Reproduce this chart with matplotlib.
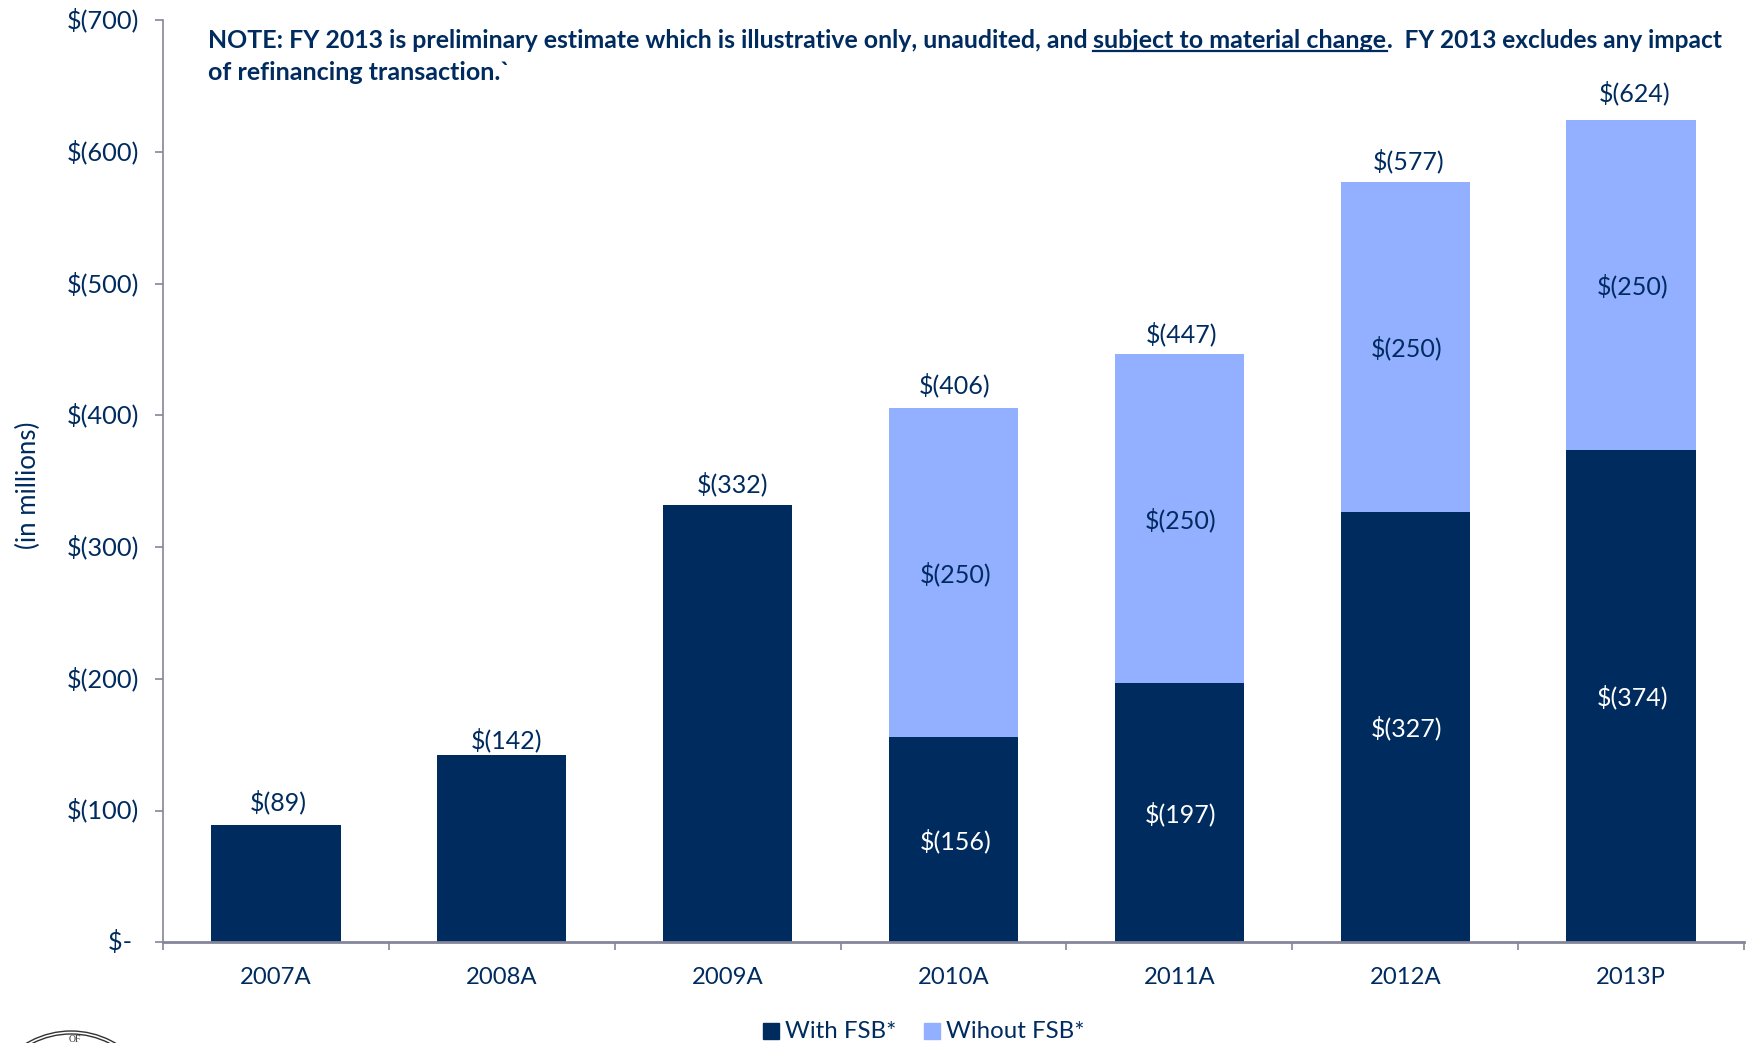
import matplotlib
matplotlib.use("Agg")
import matplotlib.pyplot as plt
from matplotlib.patches import Arc, Rectangle
from matplotlib.transforms import ScaledTranslation

W, H = 1747, 1043

categories = ["2007A", "2008A", "2009A", "2010A", "2011A", "2012A", "2013P"]
with_fsb = [89, 142, 332, 156, 197, 327, 374]
without_fsb = [0, 0, 0, 250, 250, 250, 250]
totals = [89, 142, 332, 406, 447, 577, 624]
y_ticks = [0, 100, 200, 300, 400, 500, 600, 700]
y_tick_labels = ["$- ", "$(100)", "$(200)", "$(300)", "$(400)", "$(500)", "$(600)", "$(700)"]

# the reference places its total labels unevenly (points, from the bar top)
total_dx = [1.5, 3.2, 3.4, 1, 1.7, 2.5, 2.5]
total_dy = [17, 11.2, 15.2, 16.3, 14, 15.6, 19.5]

NAVY = "#002B5F"
LIGHT = "#93AFFF"
AXIS = "#85859A"

plt.rcParams["font.family"] = ["Lato", "DejaVu Sans"]

fig = plt.figure(figsize=(W / 100, H / 100), dpi=100)
ax = fig.add_axes([163 / W, 1 - 942.3 / H, (1744 - 163) / W, 922 / H])


def px(x, y):
    # figure pixels, origin top left
    return x / W, 1 - y / H


xs = list(range(len(categories)))
ax.bar(xs, with_fsb, width=0.572, color=NAVY)
ax.bar(xs, without_fsb, width=0.572, bottom=with_fsb, color=LIGHT)

ax.set_xlim(-0.5, 6.5)
ax.set_ylim(0, 700)
ax.set_yticks(y_ticks)
ax.set_yticklabels(y_tick_labels, fontsize=18.3, color=NAVY)
ax.set_xticks([x - 0.5 for x in range(8)])
ax.set_xticklabels([])
ax.tick_params(axis="y", length=6, width=1.2, color=AXIS, pad=11.5)
ax.tick_params(axis="x", length=6, width=1.2, color=AXIS)
ax.spines["top"].set_visible(False)
ax.spines["right"].set_visible(False)
ax.spines["left"].set_color(AXIS)
ax.spines["left"].set_linewidth(1.2)
ax.spines["bottom"].set_color(AXIS)
ax.spines["bottom"].set_linewidth(2)

# y labels sit a little above their ticks in the reference
shift_up = ScaledTranslation(0, 1.6 / 72, fig.dpi_scale_trans)
for label in ax.get_yticklabels():
    label.set_transform(label.get_transform() + shift_up)

for x, name in zip(xs, categories):
    ax.annotate(name, (x, 0), xytext=(0, -25.6), textcoords="offset points",
                ha="center", va="center", fontsize=17.2, color=NAVY)

# totals above the bars, segment values inside
for x, t, dx, dy in zip(xs, totals, total_dx, total_dy):
    ax.annotate(f"$({t})", (x, t), xytext=(dx, dy), textcoords="offset points",
                ha="center", va="center", fontsize=18, color=NAVY)
for x, a, b in zip(xs, with_fsb, without_fsb):
    if b:
        ax.annotate(f"$({a})", (x, a / 2), xytext=(1.2, -1), textcoords="offset points",
                    ha="center", va="center", fontsize=18, color="white")
        ax.annotate(f"$({b})", (x, a + b / 2), xytext=(1.2, -1), textcoords="offset points",
                    ha="center", va="center", fontsize=18, color=NAVY)

fig.text(*px(28.5, 485), "(in millions)", rotation=90, ha="center", va="center", fontsize=18.5, color=NAVY)

# note, three pieces so the middle one can be underlined
note_kw = dict(fontweight="bold", color=NAVY, va="center")
fig.text(*px(208, 41), "NOTE: FY 2013 is preliminary estimate which is illustrative only, unaudited, and",
         ha="left", fontsize=17.9, **note_kw)
fig.text(*px(1093, 41), "subject to material change", ha="left", fontsize=18, **note_kw)
fig.text(*px(1387, 41), ".  FY 2013 excludes any impact", ha="left", fontsize=17.6, **note_kw)
fig.text(*px(208, 73), "of refinancing transaction.`", ha="left", fontsize=18, **note_kw)
fig.add_artist(plt.Line2D([1093 / W, 1387 / W], [1 - 51 / H] * 2, color=NAVY, lw=1.6))

# legend by hand, it sits centred under the axis
fig.add_artist(Rectangle(px(763, 1039), 16 / W, 16 / H, color=NAVY, transform=fig.transFigure))
fig.text(*px(785, 1032), "With FSB*", ha="left", va="center", fontsize=17.3, color=NAVY)
fig.add_artist(Rectangle(px(924, 1039), 16 / W, 16 / H, color=LIGHT, transform=fig.transFigure))
fig.text(*px(946, 1032), "Wihout FSB*", ha="left", va="center", fontsize=17.3, color=NAVY)

# top of the seal, cut off by the bottom edge
for d in (174, 168):
    fig.add_artist(Arc(px(71, 1118), d / W, d / H, theta1=50, theta2=130, color="#333333", lw=1,
                       transform=fig.transFigure))
fig.text(*px(75, 1039), "OF", ha="center", va="center", fontsize=7, family="Liberation Serif", color="#333333")

fig.savefig("out.png", dpi=100)
